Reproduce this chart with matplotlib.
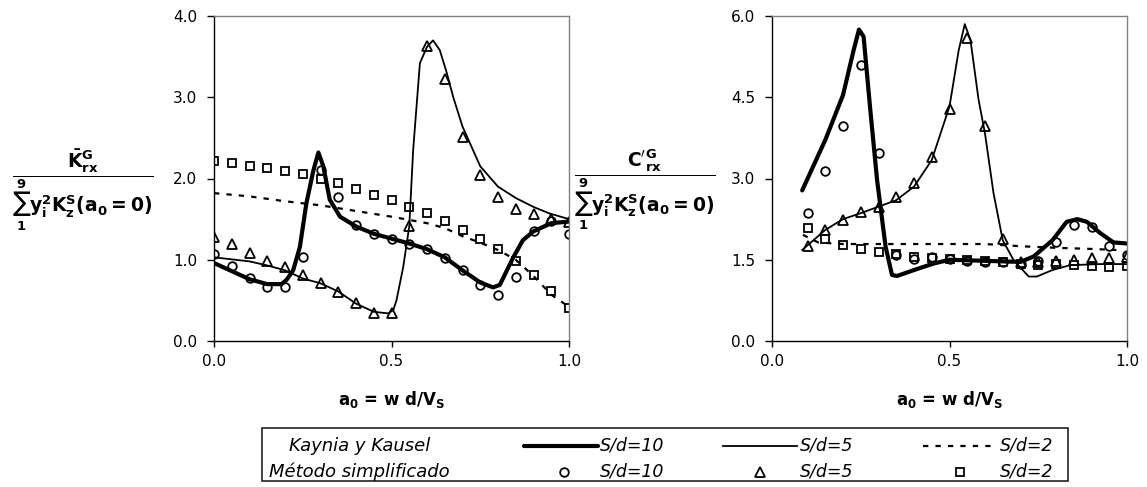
import matplotlib
matplotlib.use("Agg")
import matplotlib.pyplot as plt
from matplotlib.patches import Rectangle
from matplotlib.lines import Line2D

plt.rcParams['font.family'] = ['DejaVu Sans']
plt.rcParams['mathtext.fontset'] = 'dejavusans'
plt.rcParams['mathtext.default'] = 'bf'

# ---------------- data: left panel (stiffness) ----------------
x_sim_left = [0.00, 0.05, 0.10, 0.15, 0.20, 0.25, 0.30, 0.35, 0.40, 0.45, 0.50,
              0.55, 0.60, 0.65, 0.70, 0.75, 0.80, 0.85, 0.90, 0.95, 1.00]
K_sim_10 = [1.07, 0.92, 0.77, 0.67, 0.66, 1.03, 2.11, 1.77, 1.43, 1.32, 1.26,
            1.19, 1.13, 1.02, 0.88, 0.69, 0.57, 0.79, 1.36, 1.48, 1.32]
K_sim_5 = [1.28, 1.19, 1.08, 0.99, 0.91, 0.81, 0.71, 0.60, 0.47, 0.35, 0.35,
           1.41, 3.63, 3.23, 2.51, 2.04, 1.77, 1.63, 1.56, 1.50, 1.47]
K_sim_2 = [2.22, 2.19, 2.16, 2.13, 2.09, 2.05, 1.99, 1.94, 1.87, 1.80, 1.73,
           1.65, 1.57, 1.48, 1.37, 1.26, 1.13, 0.98, 0.81, 0.62, 0.41]

x_KK10_left = [0.00, 0.05, 0.10, 0.15, 0.19, 0.204, 0.223, 0.242, 0.26, 0.28, 0.294,
               0.308, 0.326, 0.355, 0.40, 0.45, 0.50, 0.55, 0.60, 0.65, 0.70, 0.75,
               0.786, 0.805, 0.842, 0.87, 0.90, 0.95, 1.00]
K_KK10 = [0.96, 0.86, 0.76, 0.70, 0.70, 0.75, 0.87, 1.16, 1.69, 2.10, 2.32,
          2.15, 1.74, 1.53, 1.41, 1.32, 1.26, 1.20, 1.13, 1.03, 0.87, 0.72,
          0.66, 0.69, 1.02, 1.24, 1.35, 1.45, 1.47]

x_KK5_left = [0.00, 0.10, 0.15, 0.20, 0.25, 0.30, 0.35, 0.40, 0.45, 0.49, 0.505,
              0.514, 0.533, 0.55, 0.561, 0.58, 0.60, 0.617, 0.636, 0.655, 0.674,
              0.70, 0.75, 0.80, 0.85, 0.90, 0.945, 1.00]
K_KK5 = [1.03, 0.98, 0.93, 0.87, 0.77, 0.71, 0.61, 0.46, 0.36, 0.34, 0.38,
         0.50, 0.91, 1.41, 2.35, 3.42, 3.62, 3.70, 3.58, 3.31, 3.00,
         2.64, 2.15, 1.90, 1.76, 1.65, 1.57, 1.50]

x_KK2_left = [0.00, 0.10, 0.20, 0.30, 0.40, 0.50, 0.55, 0.60, 0.65, 0.70, 0.75,
              0.80, 0.85, 0.90, 0.95, 1.00]
K_KK2 = [1.82, 1.78, 1.72, 1.67, 1.60, 1.53, 1.49, 1.45, 1.39, 1.29, 1.21,
         1.12, 1.00, 0.80, 0.57, 0.42]

# ---------------- data: right panel (damping) ----------------
x_sim_right = [0.10, 0.15, 0.20, 0.25, 0.30, 0.35, 0.40, 0.45, 0.50, 0.55,
               0.60, 0.65, 0.70, 0.75, 0.80, 0.85, 0.90, 0.95, 1.00]
C_sim_10 = [2.36, 3.13, 3.97, 5.10, 3.48, 1.58, 1.52, 1.55, 1.51, 1.48,
            1.46, 1.46, 1.43, 1.48, 1.82, 2.15, 2.10, 1.75, 1.59]
C_sim_5 = [1.75, 2.05, 2.23, 2.38, 2.47, 2.66, 2.92, 3.39, 4.28, 5.59,
           3.97, 1.89, 1.46, 1.46, 1.47, 1.50, 1.53, 1.54, 1.55]
C_sim_2 = [2.08, 1.88, 1.77, 1.70, 1.65, 1.60, 1.56, 1.54, 1.51, 1.50,
           1.48, 1.46, 1.42, 1.40, 1.42, 1.40, 1.39, 1.37, 1.39]

x_KK10_right = [0.085, 0.15, 0.20, 0.23, 0.245, 0.258, 0.277, 0.296, 0.32, 0.338,
                0.352, 0.40, 0.455, 0.50, 0.60, 0.70, 0.737, 0.79, 0.83, 0.86,
                0.887, 0.925, 0.962, 1.00]
C_KK10 = [2.78, 3.71, 4.54, 5.37, 5.75, 5.62, 4.26, 2.97, 1.74, 1.22,
          1.20, 1.31, 1.43, 1.50, 1.48, 1.46, 1.56, 1.86, 2.20, 2.25,
          2.20, 1.99, 1.82, 1.80]

x_KK5_right = [0.085, 0.15, 0.20, 0.25, 0.30, 0.35, 0.40, 0.45, 0.50, 0.526,
               0.543, 0.559, 0.582, 0.60, 0.624, 0.65, 0.68, 0.723, 0.746, 0.79,
               0.84, 0.925, 1.00]
C_KK5 = [1.68, 2.05, 2.25, 2.36, 2.48, 2.60, 2.85, 3.34, 4.33, 5.37,
         5.85, 5.56, 4.45, 3.83, 2.73, 1.86, 1.50, 1.19, 1.19, 1.31,
         1.40, 1.42, 1.42]

x_KK2_right = [0.087, 0.13, 0.20, 0.60, 0.70, 0.80, 0.90, 0.97]
C_KK2 = [1.96, 1.82, 1.79, 1.79, 1.75, 1.72, 1.70, 1.68]

left_yticks = [0.0, 1.0, 2.0, 3.0, 4.0]
right_yticks = [0.0, 1.5, 3.0, 4.5, 6.0]
xticks = [0.0, 0.5, 1.0]

# ---------------- figure ----------------
W, H = 1147, 487
fig = plt.figure(figsize=(W / 100, H / 100), dpi=100)

def px_axes(x0, y0, x1, y1):
    return fig.add_axes([x0 / W, 1 - y1 / H, (x1 - x0) / W, (y1 - y0) / H])

axL = px_axes(214, 16, 569, 341)
axR = px_axes(772, 16, 1127, 341)

thick = dict(color='black', lw=3.0, solid_capstyle='round', solid_joinstyle='round')
thin = dict(color='black', lw=1.3)
dash = dict(color='black', lw=1.6, linestyle=(0, (2.4, 3.2)))
mk = dict(linestyle='none', mfc='none', mec='black', mew=1.3)

def draw(ax, xs, s10, s5, s2, xk10, k10, xk5, k5, xk2, k2):
    ax.plot(xk2, k2, **dash)
    ax.plot(xk5, k5, **thin)
    ax.plot(xk10, k10, **thick)
    ax.plot(xs, s10, marker='o', ms=6.2, **mk)
    ax.plot(xs, s5, marker='^', ms=6.8, **mk)
    ax.plot(xs, s2, marker='s', ms=5.8, **mk)

draw(axL, x_sim_left, K_sim_10, K_sim_5, K_sim_2,
     x_KK10_left, K_KK10, x_KK5_left, K_KK5, x_KK2_left, K_KK2)
draw(axR, x_sim_right, C_sim_10, C_sim_5, C_sim_2,
     x_KK10_right, C_KK10, x_KK5_right, C_KK5, x_KK2_right, C_KK2)

for ax, yt, ymax in ((axL, left_yticks, 4.0), (axR, right_yticks, 6.0)):
    ax.set_xlim(0, 1)
    ax.set_ylim(0, ymax)
    ax.set_xticks(xticks)
    ax.set_xticklabels([f"{v:.1f}" for v in xticks])
    ax.set_yticks(yt)
    ax.set_yticklabels([f"{v:.1f}" for v in yt])
    ax.tick_params(axis='x', direction='out', length=4.5, width=1, labelsize=11, pad=4.5)
    ax.tick_params(axis='y', direction='out', length=5, width=1, labelsize=11, pad=7)
    for s in ('left', 'bottom'):
        ax.spines[s].set_color('black')
        ax.spines[s].set_linewidth(1.0)
    for s in ('top', 'right'):
        ax.spines[s].set_color('#808080')
        ax.spines[s].set_linewidth(1.0)
    ax.set_xlabel(r'$a_0$ = w d/V$_S$', fontsize=12, fontweight='bold', labelpad=15)

# y labels (horizontal fractions)
lab_left = r'$\dfrac{\bar{K}^G_{rx}}{\sum_{1}^{9}y_i^2K_z^S(a_0 = 0)}$'
lab_right = r"$\dfrac{C'^G_{rx}}{\sum_{1}^{9}y_i^2K_z^S(a_0 = 0)}$"
fig.text(83 / W, 1 - 190 / H, lab_left, ha='center', va='center', fontsize=13.5)
fig.text(645 / W, 1 - 190 / H, lab_right, ha='center', va='center', fontsize=13.5)

# legend (drawn in pixel coordinates of an overlay)
lg = fig.add_axes([0, 0, 1, 1], facecolor='none')
lg.set_xlim(0, W)
lg.set_ylim(H, 0)
lg.axis('off')
lg.add_patch(Rectangle((262, 428), 806, 53, fill=False, ec='#222222', lw=1.2))
r1, r2 = 446, 472
lfs = 12.5
lg.text(360, r1, 'Kaynia y Kausel', ha='center', va='center', fontsize=13, style='italic')
lg.text(359, r2, 'Método simplificado', ha='center', va='center', fontsize=13, style='italic')
lg.add_line(Line2D([524, 598], [r1, r1], **thick))
lg.add_line(Line2D([723, 797], [r1, r1], **thin))
lg.add_line(Line2D([923, 997], [r1, r1], **dash))
lg.plot([564], [r2], marker='o', ms=6.2, **mk)
lg.plot([760], [r2], marker='^', ms=6.8, **mk)
lg.plot([960], [r2], marker='s', ms=5.8, **mk)
for xx, t in ((600, 'S/d=10'), (800, 'S/d=5'), (1000, 'S/d=2')):
    lg.text(xx, r1, t, ha='left', va='center', fontsize=lfs, style='italic')
    lg.text(xx, r2, t, ha='left', va='center', fontsize=lfs, style='italic')

fig.savefig('out.png', dpi=100)
